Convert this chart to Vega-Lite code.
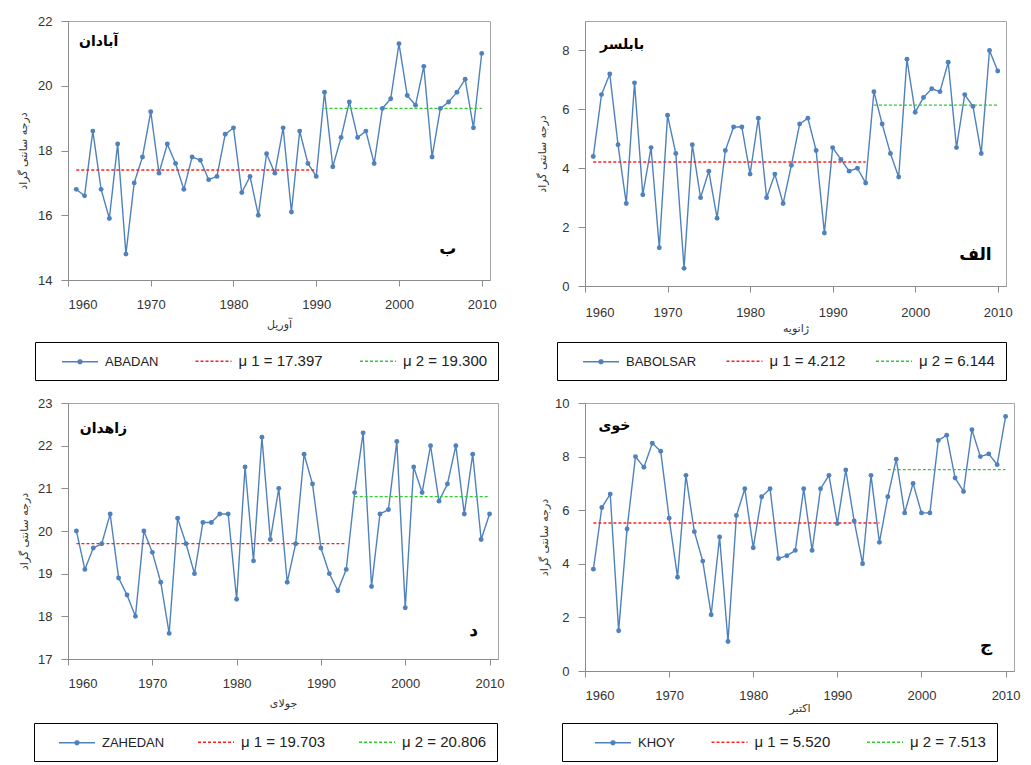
{
"$schema": "https://vega.github.io/schema/vega-lite/v6.json",
"padding": {"left": 17, "top": 14, "right": 4, "bottom": 4},
"background": "white",
"columns": 2,
"bounds": "flush",
"spacing": {"row": 117, "column": 87},
"resolve": {"scale": {"color": "independent", "strokeDash": "independent", "x": "independent", "y": "independent"}},
"config": {
  "view": {"stroke": "#A6A6A6", "strokeWidth": 1},
  "font": "Liberation Sans",
  "axis": {"grid": false, "domainColor": "#8C8C8C", "tickColor": "#8C8C8C", "labelFont": "Liberation Sans", "labelFontSize": 13, "labelColor": "#333333", "titleFont": "DejaVu Sans", "titleFontWeight": "normal", "titleFontSize": 11, "titleColor": "#333333"},
  "axisX": {"tickSize": 6, "labelPadding": 12, "titlePadding": 7},
  "axisY": {"tickSize": 7, "labelPadding": 9},
  "legend": {"orient": "none", "direction": "horizontal", "strokeColor": "#000000", "fillColor": "#ffffff", "padding": 10.5, "symbolSize": 225, "symbolStrokeWidth": 1.5, "labelOffset": 16.5, "labelFont": "Liberation Sans", "labelFontSize": 13, "labelColor": "#222222"},
  "text": {"font": "DejaVu Sans", "fontWeight": "bold", "color": "#000000"}
},
"concat": [
{
  "width": 422, "height": 259,
  "data": {"values": [
{"s":"ABADAN","year":1961,"t":16.8},{"s":"ABADAN","year":1962,"t":16.6},{"s":"ABADAN","year":1963,"t":18.6},{"s":"ABADAN","year":1964,"t":16.8},{"s":"ABADAN","year":1965,"t":15.9},{"s":"ABADAN","year":1966,"t":18.2},{"s":"ABADAN","year":1967,"t":14.8},{"s":"ABADAN","year":1968,"t":17.0},{"s":"ABADAN","year":1969,"t":17.8},{"s":"ABADAN","year":1970,"t":19.2},
{"s":"ABADAN","year":1971,"t":17.3},{"s":"ABADAN","year":1972,"t":18.2},{"s":"ABADAN","year":1973,"t":17.6},{"s":"ABADAN","year":1974,"t":16.8},{"s":"ABADAN","year":1975,"t":17.8},{"s":"ABADAN","year":1976,"t":17.7},{"s":"ABADAN","year":1977,"t":17.1},{"s":"ABADAN","year":1978,"t":17.2},{"s":"ABADAN","year":1979,"t":18.5},{"s":"ABADAN","year":1980,"t":18.7},
{"s":"ABADAN","year":1981,"t":16.7},{"s":"ABADAN","year":1982,"t":17.2},{"s":"ABADAN","year":1983,"t":16.0},{"s":"ABADAN","year":1984,"t":17.9},{"s":"ABADAN","year":1985,"t":17.3},{"s":"ABADAN","year":1986,"t":18.7},{"s":"ABADAN","year":1987,"t":16.1},{"s":"ABADAN","year":1988,"t":18.6},{"s":"ABADAN","year":1989,"t":17.6},{"s":"ABADAN","year":1990,"t":17.2},
{"s":"ABADAN","year":1991,"t":19.8},{"s":"ABADAN","year":1992,"t":17.5},{"s":"ABADAN","year":1993,"t":18.4},{"s":"ABADAN","year":1994,"t":19.5},{"s":"ABADAN","year":1995,"t":18.4},{"s":"ABADAN","year":1996,"t":18.6},{"s":"ABADAN","year":1997,"t":17.6},{"s":"ABADAN","year":1998,"t":19.3},{"s":"ABADAN","year":1999,"t":19.6},{"s":"ABADAN","year":2000,"t":21.3},
{"s":"ABADAN","year":2001,"t":19.7},{"s":"ABADAN","year":2002,"t":19.4},{"s":"ABADAN","year":2003,"t":20.6},{"s":"ABADAN","year":2004,"t":17.8},{"s":"ABADAN","year":2005,"t":19.3},{"s":"ABADAN","year":2006,"t":19.5},{"s":"ABADAN","year":2007,"t":19.8},{"s":"ABADAN","year":2008,"t":20.2},{"s":"ABADAN","year":2009,"t":18.7},{"s":"ABADAN","year":2010,"t":21.0},
{"s":"μ 1 = 17.397","year":1961,"t":17.397},{"s":"μ 1 = 17.397","year":1990,"t":17.397},
{"s":"μ 2 = 19.300","year":1991,"t":19.3},{"s":"μ 2 = 19.300","year":2010,"t":19.3}
  ]},
  "layer": [
    {"mark": {"type": "line", "strokeWidth": 1.4},
     "encoding": {
       "x": {"field": "year", "type": "quantitative", "scale": {"domain": [1960, 2011], "nice": false, "zero": false}, "axis": {"values": [1960,1970,1980,1990,2000,2010], "format": "d", "title": "آوریل"}},
       "y": {"field": "t", "type": "quantitative", "scale": {"domain": [14, 22], "nice": false, "zero": false}, "axis": {"values": [14,16,18,20,22], "title": "درجه سانتی گراد", "titlePadding": 9}},
       "color": {"field": "s", "type": "nominal", "scale": {"domain": ["ABADAN", "μ 1 = 17.397", "μ 2 = 19.300"], "range": ["#4F81BD", "#FF1F1F", "#2ECC2E"]},
         "legend": {"title": null, "legendX": -33, "legendY": 321, "symbolOffset": 26, "columnPadding": 20.5,
           "encode": {"symbols": {"update": {"shape": {"signal": "datum.value === 'ABADAN' ? 'M-2.4,0L2.4,0M-0.25,0A0.25,0.25,0,1,0,0.25,0A0.25,0.25,0,1,0,-0.25,0Z' : 'M-2.4,0L2.4,0'"}, "fill": {"signal": "datum.value === 'ABADAN' ? '#4F81BD' : 'transparent'"}}},
                      "labels": {"update": {"fontSize": {"signal": "datum.value === 'ABADAN' ? 13 : 15"}}}}}},
       "strokeDash": {"field": "s", "type": "nominal", "scale": {"domain": ["ABADAN", "μ 1 = 17.397", "μ 2 = 19.300"], "range": [[1,0],[3,2],[3,2]]},
         "legend": {"title": null, "legendX": -33, "legendY": 321, "symbolOffset": 26, "columnPadding": 20.5}}
     }},
    {"transform": [{"filter": "datum.s === 'ABADAN'"}],
     "mark": {"type": "circle", "size": 24, "color": "#4F81BD", "opacity": 1},
     "encoding": {"x": {"field": "year", "type": "quantitative"}, "y": {"field": "t", "type": "quantitative"}}},
    {"data": {"values": [{}]}, "mark": {"type": "text", "fontSize": 14},
     "encoding": {"x": {"datum": 1963.7}, "y": {"datum": 21.35}, "text": {"value": "آبادان"}}},
    {"data": {"values": [{}]}, "mark": {"type": "text", "fontSize": 17},
     "encoding": {"x": {"datum": 2005.9}, "y": {"datum": 14.95}, "text": {"value": "ب"}}}
  ]
},
{
  "width": 421, "height": 265,
  "data": {"values": [
{"s":"BABOLSAR","year":1961,"t":4.4},{"s":"BABOLSAR","year":1962,"t":6.5},{"s":"BABOLSAR","year":1963,"t":7.2},{"s":"BABOLSAR","year":1964,"t":4.8},{"s":"BABOLSAR","year":1965,"t":2.8},{"s":"BABOLSAR","year":1966,"t":6.9},{"s":"BABOLSAR","year":1967,"t":3.1},{"s":"BABOLSAR","year":1968,"t":4.7},{"s":"BABOLSAR","year":1969,"t":1.3},{"s":"BABOLSAR","year":1970,"t":5.8},
{"s":"BABOLSAR","year":1971,"t":4.5},{"s":"BABOLSAR","year":1972,"t":0.6},{"s":"BABOLSAR","year":1973,"t":4.8},{"s":"BABOLSAR","year":1974,"t":3.0},{"s":"BABOLSAR","year":1975,"t":3.9},{"s":"BABOLSAR","year":1976,"t":2.3},{"s":"BABOLSAR","year":1977,"t":4.6},{"s":"BABOLSAR","year":1978,"t":5.4},{"s":"BABOLSAR","year":1979,"t":5.4},{"s":"BABOLSAR","year":1980,"t":3.8},
{"s":"BABOLSAR","year":1981,"t":5.7},{"s":"BABOLSAR","year":1982,"t":3.0},{"s":"BABOLSAR","year":1983,"t":3.8},{"s":"BABOLSAR","year":1984,"t":2.8},{"s":"BABOLSAR","year":1985,"t":4.1},{"s":"BABOLSAR","year":1986,"t":5.5},{"s":"BABOLSAR","year":1987,"t":5.7},{"s":"BABOLSAR","year":1988,"t":4.6},{"s":"BABOLSAR","year":1989,"t":1.8},{"s":"BABOLSAR","year":1990,"t":4.7},
{"s":"BABOLSAR","year":1991,"t":4.3},{"s":"BABOLSAR","year":1992,"t":3.9},{"s":"BABOLSAR","year":1993,"t":4.0},{"s":"BABOLSAR","year":1994,"t":3.5},{"s":"BABOLSAR","year":1995,"t":6.6},{"s":"BABOLSAR","year":1996,"t":5.5},{"s":"BABOLSAR","year":1997,"t":4.5},{"s":"BABOLSAR","year":1998,"t":3.7},{"s":"BABOLSAR","year":1999,"t":7.7},{"s":"BABOLSAR","year":2000,"t":5.9},
{"s":"BABOLSAR","year":2001,"t":6.4},{"s":"BABOLSAR","year":2002,"t":6.7},{"s":"BABOLSAR","year":2003,"t":6.6},{"s":"BABOLSAR","year":2004,"t":7.6},{"s":"BABOLSAR","year":2005,"t":4.7},{"s":"BABOLSAR","year":2006,"t":6.5},{"s":"BABOLSAR","year":2007,"t":6.1},{"s":"BABOLSAR","year":2008,"t":4.5},{"s":"BABOLSAR","year":2009,"t":8.0},{"s":"BABOLSAR","year":2010,"t":7.3},
{"s":"μ 1 = 4.212","year":1961,"t":4.212},{"s":"μ 1 = 4.212","year":1994,"t":4.212},
{"s":"μ 2 = 6.144","year":1995,"t":6.144},{"s":"μ 2 = 6.144","year":2010,"t":6.144}
  ]},
  "layer": [
    {"mark": {"type": "line", "strokeWidth": 1.4},
     "encoding": {
       "x": {"field": "year", "type": "quantitative", "scale": {"domain": [1960, 2011], "nice": false, "zero": false}, "axis": {"values": [1960,1970,1980,1990,2000,2010], "format": "d", "title": "ژانویه", "labelPadding": 14, "titlePadding": 3}},
       "y": {"field": "t", "type": "quantitative", "scale": {"domain": [0, 9], "nice": false, "zero": false}, "axis": {"values": [0,2,4,6,8], "title": "درجه سانتی گراد", "titlePadding": 14}},
       "color": {"field": "s", "type": "nominal", "scale": {"domain": ["BABOLSAR", "μ 1 = 4.212", "μ 2 = 6.144"], "range": ["#4F81BD", "#FF1F1F", "#2ECC2E"]},
         "legend": {"title": null, "legendX": -28, "legendY": 321, "symbolOffset": 25, "columnPadding": 14.5,
           "encode": {"symbols": {"update": {"shape": {"signal": "datum.value === 'BABOLSAR' ? 'M-2.4,0L2.4,0M-0.25,0A0.25,0.25,0,1,0,0.25,0A0.25,0.25,0,1,0,-0.25,0Z' : 'M-2.4,0L2.4,0'"}, "fill": {"signal": "datum.value === 'BABOLSAR' ? '#4F81BD' : 'transparent'"}}},
                      "labels": {"update": {"fontSize": {"signal": "datum.value === 'BABOLSAR' ? 13 : 15"}}}}}},
       "strokeDash": {"field": "s", "type": "nominal", "scale": {"domain": ["BABOLSAR", "μ 1 = 4.212", "μ 2 = 6.144"], "range": [[1,0],[3,2],[3,2]]},
         "legend": {"title": null, "legendX": -28, "legendY": 321, "symbolOffset": 25, "columnPadding": 14.5}}
     }},
    {"transform": [{"filter": "datum.s === 'BABOLSAR'"}],
     "mark": {"type": "circle", "size": 24, "color": "#4F81BD", "opacity": 1},
     "encoding": {"x": {"field": "year", "type": "quantitative"}, "y": {"field": "t", "type": "quantitative"}}},
    {"data": {"values": [{}]}, "mark": {"type": "text", "fontSize": 14},
     "encoding": {"x": {"datum": 1964.5}, "y": {"datum": 8.2}, "text": {"value": "بابلسر"}}},
    {"data": {"values": [{}]}, "mark": {"type": "text", "fontSize": 17},
     "encoding": {"x": {"datum": 2007.3}, "y": {"datum": 1.05}, "text": {"value": "الف"}}}
  ]
},
{
  "width": 430, "height": 256,
  "data": {"values": [
{"s":"ZAHEDAN","year":1961,"t":20.0},{"s":"ZAHEDAN","year":1962,"t":19.1},{"s":"ZAHEDAN","year":1963,"t":19.6},{"s":"ZAHEDAN","year":1964,"t":19.7},{"s":"ZAHEDAN","year":1965,"t":20.4},{"s":"ZAHEDAN","year":1966,"t":18.9},{"s":"ZAHEDAN","year":1967,"t":18.5},{"s":"ZAHEDAN","year":1968,"t":18.0},{"s":"ZAHEDAN","year":1969,"t":20.0},{"s":"ZAHEDAN","year":1970,"t":19.5},
{"s":"ZAHEDAN","year":1971,"t":18.8},{"s":"ZAHEDAN","year":1972,"t":17.6},{"s":"ZAHEDAN","year":1973,"t":20.3},{"s":"ZAHEDAN","year":1974,"t":19.7},{"s":"ZAHEDAN","year":1975,"t":19.0},{"s":"ZAHEDAN","year":1976,"t":20.2},{"s":"ZAHEDAN","year":1977,"t":20.2},{"s":"ZAHEDAN","year":1978,"t":20.4},{"s":"ZAHEDAN","year":1979,"t":20.4},{"s":"ZAHEDAN","year":1980,"t":18.4},
{"s":"ZAHEDAN","year":1981,"t":21.5},{"s":"ZAHEDAN","year":1982,"t":19.3},{"s":"ZAHEDAN","year":1983,"t":22.2},{"s":"ZAHEDAN","year":1984,"t":19.8},{"s":"ZAHEDAN","year":1985,"t":21.0},{"s":"ZAHEDAN","year":1986,"t":18.8},{"s":"ZAHEDAN","year":1987,"t":19.7},{"s":"ZAHEDAN","year":1988,"t":21.8},{"s":"ZAHEDAN","year":1989,"t":21.1},{"s":"ZAHEDAN","year":1990,"t":19.6},
{"s":"ZAHEDAN","year":1991,"t":19.0},{"s":"ZAHEDAN","year":1992,"t":18.6},{"s":"ZAHEDAN","year":1993,"t":19.1},{"s":"ZAHEDAN","year":1994,"t":20.9},{"s":"ZAHEDAN","year":1995,"t":22.3},{"s":"ZAHEDAN","year":1996,"t":18.7},{"s":"ZAHEDAN","year":1997,"t":20.4},{"s":"ZAHEDAN","year":1998,"t":20.5},{"s":"ZAHEDAN","year":1999,"t":22.1},{"s":"ZAHEDAN","year":2000,"t":18.2},
{"s":"ZAHEDAN","year":2001,"t":21.5},{"s":"ZAHEDAN","year":2002,"t":20.9},{"s":"ZAHEDAN","year":2003,"t":22.0},{"s":"ZAHEDAN","year":2004,"t":20.7},{"s":"ZAHEDAN","year":2005,"t":21.1},{"s":"ZAHEDAN","year":2006,"t":22.0},{"s":"ZAHEDAN","year":2007,"t":20.4},{"s":"ZAHEDAN","year":2008,"t":21.8},{"s":"ZAHEDAN","year":2009,"t":19.8},{"s":"ZAHEDAN","year":2010,"t":20.4},
{"s":"μ 1 = 19.703","year":1961,"t":19.703},{"s":"μ 1 = 19.703","year":1993,"t":19.703},
{"s":"μ 2 = 20.806","year":1994,"t":20.806},{"s":"μ 2 = 20.806","year":2010,"t":20.806}
  ]},
  "layer": [
    {"mark": {"type": "line", "strokeWidth": 1.4},
     "encoding": {
       "x": {"field": "year", "type": "quantitative", "scale": {"domain": [1960, 2011], "nice": false, "zero": false}, "axis": {"values": [1960,1970,1980,1990,2000,2010], "format": "d", "title": "جولای"}},
       "y": {"field": "t", "type": "quantitative", "scale": {"domain": [17, 23], "nice": false, "zero": false}, "axis": {"values": [17,18,19,20,21,22,23], "title": "درجه سانتی گراد", "titlePadding": 8}},
       "color": {"field": "s", "type": "nominal", "scale": {"domain": ["ZAHEDAN", "μ 1 = 19.703", "μ 2 = 20.806"], "range": ["#4F81BD", "#FF1F1F", "#2ECC2E"]},
         "legend": {"title": null, "legendX": -34, "legendY": 320, "symbolOffset": 24, "columnPadding": 19,
           "encode": {"symbols": {"update": {"shape": {"signal": "datum.value === 'ZAHEDAN' ? 'M-2.4,0L2.4,0M-0.25,0A0.25,0.25,0,1,0,0.25,0A0.25,0.25,0,1,0,-0.25,0Z' : 'M-2.4,0L2.4,0'"}, "fill": {"signal": "datum.value === 'ZAHEDAN' ? '#4F81BD' : 'transparent'"}}},
                      "labels": {"update": {"fontSize": {"signal": "datum.value === 'ZAHEDAN' ? 13 : 15"}}}}}},
       "strokeDash": {"field": "s", "type": "nominal", "scale": {"domain": ["ZAHEDAN", "μ 1 = 19.703", "μ 2 = 20.806"], "range": [[1,0],[3,2],[3,2]]},
         "legend": {"title": null, "legendX": -34, "legendY": 320, "symbolOffset": 24, "columnPadding": 19}}
     }},
    {"transform": [{"filter": "datum.s === 'ZAHEDAN'"}],
     "mark": {"type": "circle", "size": 24, "color": "#4F81BD", "opacity": 1},
     "encoding": {"x": {"field": "year", "type": "quantitative"}, "y": {"field": "t", "type": "quantitative"}}},
    {"data": {"values": [{}]}, "mark": {"type": "text", "fontSize": 14},
     "encoding": {"x": {"datum": 1964.2}, "y": {"datum": 22.39}, "text": {"value": "زاهدان"}}},
    {"data": {"values": [{}]}, "mark": {"type": "text", "fontSize": 17},
     "encoding": {"x": {"datum": 2008.1}, "y": {"datum": 17.66}, "text": {"value": "د"}}}
  ]
},
{
  "width": 429, "height": 268,
  "data": {"values": [
{"s":"KHOY","year":1961,"t":3.8},{"s":"KHOY","year":1962,"t":6.1},{"s":"KHOY","year":1963,"t":6.6},{"s":"KHOY","year":1964,"t":1.5},{"s":"KHOY","year":1965,"t":5.3},{"s":"KHOY","year":1966,"t":8.0},{"s":"KHOY","year":1967,"t":7.6},{"s":"KHOY","year":1968,"t":8.5},{"s":"KHOY","year":1969,"t":8.2},{"s":"KHOY","year":1970,"t":5.7},
{"s":"KHOY","year":1971,"t":3.5},{"s":"KHOY","year":1972,"t":7.3},{"s":"KHOY","year":1973,"t":5.2},{"s":"KHOY","year":1974,"t":4.1},{"s":"KHOY","year":1975,"t":2.1},{"s":"KHOY","year":1976,"t":5.0},{"s":"KHOY","year":1977,"t":1.1},{"s":"KHOY","year":1978,"t":5.8},{"s":"KHOY","year":1979,"t":6.8},{"s":"KHOY","year":1980,"t":4.6},
{"s":"KHOY","year":1981,"t":6.5},{"s":"KHOY","year":1982,"t":6.8},{"s":"KHOY","year":1983,"t":4.2},{"s":"KHOY","year":1984,"t":4.3},{"s":"KHOY","year":1985,"t":4.5},{"s":"KHOY","year":1986,"t":6.8},{"s":"KHOY","year":1987,"t":4.5},{"s":"KHOY","year":1988,"t":6.8},{"s":"KHOY","year":1989,"t":7.3},{"s":"KHOY","year":1990,"t":5.5},
{"s":"KHOY","year":1991,"t":7.5},{"s":"KHOY","year":1992,"t":5.6},{"s":"KHOY","year":1993,"t":4.0},{"s":"KHOY","year":1994,"t":7.3},{"s":"KHOY","year":1995,"t":4.8},{"s":"KHOY","year":1996,"t":6.5},{"s":"KHOY","year":1997,"t":7.9},{"s":"KHOY","year":1998,"t":5.9},{"s":"KHOY","year":1999,"t":7.0},{"s":"KHOY","year":2000,"t":5.9},
{"s":"KHOY","year":2001,"t":5.9},{"s":"KHOY","year":2002,"t":8.6},{"s":"KHOY","year":2003,"t":8.8},{"s":"KHOY","year":2004,"t":7.2},{"s":"KHOY","year":2005,"t":6.7},{"s":"KHOY","year":2006,"t":9.0},{"s":"KHOY","year":2007,"t":8.0},{"s":"KHOY","year":2008,"t":8.1},{"s":"KHOY","year":2009,"t":7.7},{"s":"KHOY","year":2010,"t":9.5},
{"s":"μ 1 = 5.520","year":1961,"t":5.52},{"s":"μ 1 = 5.520","year":1995,"t":5.52},
{"s":"μ 2 = 7.513","year":1996,"t":7.513},{"s":"μ 2 = 7.513","year":2010,"t":7.513}
  ]},
  "layer": [
    {"mark": {"type": "line", "strokeWidth": 1.4},
     "encoding": {
       "x": {"field": "year", "type": "quantitative", "scale": {"domain": [1960, 2011], "nice": false, "zero": false}, "axis": {"values": [1960,1970,1980,1990,2000,2010], "format": "d", "title": "اکتبر", "titlePadding": 0}},
       "y": {"field": "t", "type": "quantitative", "scale": {"domain": [0, 10], "nice": false, "zero": false}, "axis": {"values": [0,2,4,6,8,10], "title": "درجه سانتی گراد", "titlePadding": 5}},
       "color": {"field": "s", "type": "nominal", "scale": {"domain": ["KHOY", "μ 1 = 5.520", "μ 2 = 7.513"], "range": ["#4F81BD", "#FF1F1F", "#2ECC2E"]},
         "legend": {"title": null, "legendX": -23, "legendY": 320, "symbolOffset": 32, "columnPadding": 13.5,
           "encode": {"symbols": {"update": {"shape": {"signal": "datum.value === 'KHOY' ? 'M-2.4,0L2.4,0M-0.25,0A0.25,0.25,0,1,0,0.25,0A0.25,0.25,0,1,0,-0.25,0Z' : 'M-2.4,0L2.4,0'"}, "fill": {"signal": "datum.value === 'KHOY' ? '#4F81BD' : 'transparent'"}}},
                      "labels": {"update": {"fontSize": {"signal": "datum.value === 'KHOY' ? 13 : 15"}}}}}},
       "strokeDash": {"field": "s", "type": "nominal", "scale": {"domain": ["KHOY", "μ 1 = 5.520", "μ 2 = 7.513"], "range": [[1,0],[3,2],[3,2]]},
         "legend": {"title": null, "legendX": -23, "legendY": 320, "symbolOffset": 32, "columnPadding": 13.5}}
     }},
    {"transform": [{"filter": "datum.s === 'KHOY'"}],
     "mark": {"type": "circle", "size": 24, "color": "#4F81BD", "opacity": 1},
     "encoding": {"x": {"field": "year", "type": "quantitative"}, "y": {"field": "t", "type": "quantitative"}}},
    {"data": {"values": [{}]}, "mark": {"type": "text", "fontSize": 14},
     "encoding": {"x": {"datum": 1963.5}, "y": {"datum": 9.14}, "text": {"value": "خوی"}}},
    {"data": {"values": [{}]}, "mark": {"type": "text", "fontSize": 17},
     "encoding": {"x": {"datum": 2007.7}, "y": {"datum": 0.93}, "text": {"value": "ج"}}}
  ]
}
]
}
